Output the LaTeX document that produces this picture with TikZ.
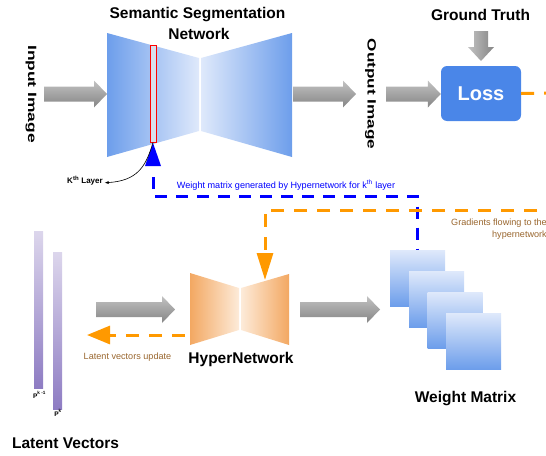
\documentclass[tikz,border=0pt]{standalone}
\usepackage{fontspec}
\usepackage{graphicx}
\setmainfont{Liberation Sans}
\usetikzlibrary{arrows.meta,calc}
\definecolor{netblue}{HTML}{6D9EEB}
\definecolor{netlight}{HTML}{DFE9FB}
\definecolor{lossblue}{HTML}{4A86E8}
\definecolor{horange}{HTML}{F3A862}
\definecolor{horangelight}{HTML}{FDEBD9}
\definecolor{dashorange}{HTML}{FF9900}
\definecolor{txtbrown}{HTML}{99662E}
\definecolor{vlight}{HTML}{DCD6EC}
\definecolor{vdark}{HTML}{8E7CC3}
\definecolor{garrowlight}{HTML}{C2C2C2}
\definecolor{garrowdark}{HTML}{858585}
\definecolor{klayerfill}{HTML}{D8DEEC}
\newcommand\harrow[2]{%
  \shade[top color=garrowlight,bottom color=garrowdark] let \p1=(#1), \p2=(#2) in
  (\x1,\y1+7.5pt) -- (\x2-13pt,\y1+7.5pt) -- (\x2-13pt,\y1+13.5pt) -- (\x2,\y1)
  -- (\x2-13pt,\y1-13.5pt) -- (\x2-13pt,\y1-7.5pt) -- (\x1,\y1-7.5pt) -- cycle;}
\tikzset{
  bigtext/.style={font=\bfseries\fontsize{15.5}{18}\selectfont, inner sep=0pt, anchor=base},
  sidetext/.style={font=\bfseries\fontsize{12}{14}\selectfont, inner sep=0pt, rotate=-90},
  smalltext/.style={font=\fontsize{9.1}{11}\selectfont, inner sep=0pt, anchor=base},
  tinytext/.style={font=\bfseries\fontsize{6.6}{8}\selectfont, inner sep=0pt, anchor=base},
  bluedash/.style={draw=blue, line width=3pt, dash pattern=on 12pt off 9pt},
  orangedash/.style={draw=dashorange, line width=3pt, dash pattern=on 13pt off 10pt},
  lossbox/.style={fill=lossblue, rounded corners=6pt, minimum width=80pt, minimum height=55pt,
    text=white, font=\bfseries\fontsize{20}{24}\selectfont, inner sep=0pt},
  wsquare/.style={top color=netlight, bottom color=netblue, minimum width=55pt,
    minimum height=56pt, inner sep=0pt},
}
\begin{document}
\begin{tikzpicture}[x=1pt,y=-1pt]
\useasboundingbox (0,0) rectangle (546,455);

% ---------- segmentation network ----------
\shade[left color=netblue, right color=netlight] (107,33) -- (199,58) -- (199,131) -- (107,157) -- cycle;
\shade[left color=netlight, right color=netblue] (201,58) -- (292,33) -- (292,157) -- (201,131) -- cycle;
\node[draw=red, fill=klayerfill, line width=0.8pt, minimum width=6pt, minimum height=97pt, inner sep=0pt] (klayer) at (153,93.5) {};
\fill[blue] (145,166) -- (153,143) -- (161,166) -- cycle;
\coordinate (encL) at (107,94);
\coordinate (decR) at (293,94);

\node[bigtext] (title1) at (197.5,19) {Semantic Segmentation};
\node[bigtext] (title2) at (199,39) {Network};

\node[sidetext] (input) at (31,94) {\scalebox{1.45}[1]{Input Image}};
\node[sidetext] (output) at (370.5,94) {\scalebox{1.43}[1]{Output Image}};
\coordinate (inA) at (44,94);
\coordinate (outA) at (356,94);
\coordinate (outB) at (386,94);

% ---------- loss ----------
\node[lossbox] (loss) at (481,93.5) {Loss};
\node[bigtext] (gt) at (480.5,20) {Ground Truth};
\shade[left color=garrowlight, right color=garrowdark]
  (474,31) -- (488,31) -- (488,47) -- (494,47) -- (481,61) -- (468,47) -- (474,47) -- cycle;

\harrow{inA}{encL}
\harrow{decR}{outA}
\harrow{outB}{loss.west}

% ---------- k-th layer label ----------
\node[font=\bfseries\fontsize{8}{9}\selectfont, inner sep=0pt, anchor=base] (kth) at (85,183) {K\textsuperscript{th} Layer};
\draw[-{Stealth[length=4pt,width=3pt]}, line width=0.6pt] (klayer.south) .. controls (146,166) and (138,181) .. ([xshift=2pt,yshift=-2.5pt]kth.east);

% ---------- weight matrix ----------
\node[wsquare] (w1) at (417.5,278) {};
\node[wsquare] (w2) at (436.5,299) {};
\node[wsquare] (w3) at (455,320) {};
\node[wsquare] (w4) at (473.5,341) {};
\node[bigtext] (wm) at (465.5,402) {Weight Matrix};

% ---------- blue dashed connector ----------
\coordinate (bstart) at (153,177);
\coordinate (bcorner) at (250,196);
\draw[bluedash] (bstart) |- (bcorner) -| (w1.north);
\node[smalltext, text=blue] (wtext) at (286,188) {Weight matrix generated by Hypernetwork for k\textsuperscript{th} layer};

% ---------- hypernetwork ----------
\shade[left color=horange, right color=horangelight] (190,273) -- (239,288) -- (239,330) -- (190,345) -- cycle;
\shade[left color=horangelight, right color=horange] (241,288) -- (289,274) -- (289,345) -- (241,330) -- cycle;
\coordinate (hyperTop) at (265,280);
\coordinate (hyperR) at (300,309.5);
\coordinate (hyperOut) at (185,335);
\node[bigtext] (hyper) at (241,363) {HyperNetwork};

% ---------- orange dashed connectors ----------
\coordinate (lossOut) at (560,93);
\coordinate (gradIn) at (560,210);
\draw[orangedash] (loss.east) -- (lossOut);
\draw[orangedash, -{Triangle[length=27pt,width=16pt]}] (gradIn) -| (hyperTop);
\node[text=txtbrown, align=right, anchor=north east, inner sep=0pt, font=\fontsize{9.1}{12}\selectfont] (gtext) at (547,219) {Gradients flowing to the\\hypernetwork};

% ---------- latent vectors ----------
\shade[top color=vlight, bottom color=vdark] (34,231) rectangle (43,388);
\shade[top color=vlight, bottom color=vdark] (53,252) rectangle (62,409);
\node[tinytext] (pk1) at (39.5,398) {P\textsuperscript{k -1}};
\node[tinytext] (pk) at (58,416) {P\textsuperscript{k}};
\node[bigtext] (lv) at (65.5,448) {Latent Vectors};
\coordinate (latR) at (96,309.5);
\coordinate (latIn) at (87,335);
\coordinate (latHead) at (175,309.5);

\harrow{latR}{latHead}
\coordinate (wIn) at (380,309.5);
\harrow{hyperR}{wIn}

\draw[orangedash, -{Triangle[length=23pt,width=18pt]}] (hyperOut) -- (latIn);
\node[smalltext, text=txtbrown] (ltext) at (127.5,359) {Latent vectors update};
\end{tikzpicture}
\end{document}
